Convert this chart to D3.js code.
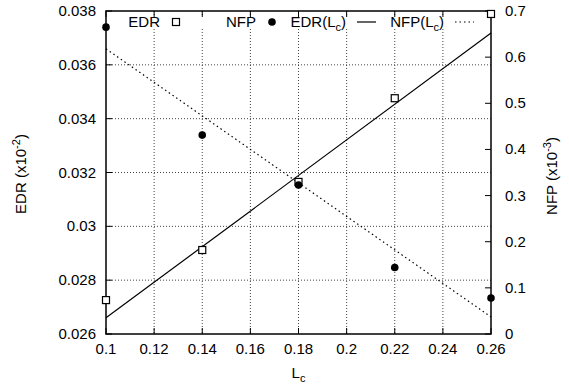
<!DOCTYPE html>
<html>
<head>
<meta charset="utf-8">
<script src="https://cdn.jsdelivr.net/npm/d3@7"></script>
<style>
  html, body { margin: 0; padding: 0; background: #fff; }
  svg { display: block; font-family: "Liberation Sans", Arial, sans-serif; }
</style>
</head>
<body>
<svg id="chart" width="569" height="388"></svg>
<script>
// Measured points
const lcValues = [0.10, 0.14, 0.18, 0.22, 0.26];
const edrValues = [0.02726, 0.02912, 0.03165, 0.03476, 0.03789];
const nfpValues = [0.665, 0.431, 0.323, 0.144, 0.078];

// Model lines EDR(Lc) and NFP(Lc), given at the ends of the Lc range
const modelLc = [0.10, 0.26];
const edrModel = [0.0266, 0.03718];
const nfpModel = [0.618, 0.037];

// Tick labels
const xTicks = [0.1, 0.12, 0.14, 0.16, 0.18, 0.2, 0.22, 0.24, 0.26];
const yLeftTicks = [0.026, 0.028, 0.03, 0.032, 0.034, 0.036, 0.038];
const yRightTicks = [0, 0.1, 0.2, 0.3, 0.4, 0.5, 0.6, 0.7];

const svg = d3.select("#chart");
const L = 106, R = 491, T = 11, B = 334;

const x = d3.scaleLinear().domain([0.1, 0.26]).range([L, R]);
const yL = d3.scaleLinear().domain([0.026, 0.038]).range([B, T]);
const yR = d3.scaleLinear().domain([0, 0.7]).range([B, T]);

const fs = 15;
const tickLen = 6;

// grid
const grid = svg.append("g").attr("stroke", "#444").attr("stroke-width", 1)
  .attr("stroke-dasharray", "1,2");
xTicks.slice(1, -1).forEach(v => {
  grid.append("line").attr("x1", x(v)).attr("x2", x(v)).attr("y1", T).attr("y2", B);
});
yLeftTicks.slice(1, -1).forEach(v => {
  grid.append("line").attr("x1", L).attr("x2", R).attr("y1", yL(v)).attr("y2", yL(v));
});

// key background (opaque)
svg.append("rect").attr("x", 113).attr("y", 15).attr("width", 369).attr("height", 14)
  .attr("fill", "#fff");

// ticks
const ticks = svg.append("g").attr("stroke", "#000").attr("stroke-width", 1);
xTicks.forEach(v => {
  ticks.append("line").attr("x1", x(v)).attr("x2", x(v)).attr("y1", B).attr("y2", B - tickLen);
  ticks.append("line").attr("x1", x(v)).attr("x2", x(v)).attr("y1", T).attr("y2", T + tickLen);
});
yLeftTicks.forEach(v => {
  ticks.append("line").attr("x1", L).attr("x2", L + tickLen).attr("y1", yL(v)).attr("y2", yL(v));
});
yRightTicks.forEach(v => {
  ticks.append("line").attr("x1", R).attr("x2", R - tickLen).attr("y1", yR(v)).attr("y2", yR(v));
});

// tick labels
const lab = svg.append("g").attr("font-size", fs).attr("fill", "#000");
xTicks.forEach(v => {
  lab.append("text").attr("x", x(v)).attr("y", B + 20).attr("text-anchor", "middle")
    .text(d3.format("~g")(v));
});
yLeftTicks.forEach(v => {
  lab.append("text").attr("x", L - 10).attr("y", yL(v) + 5).attr("text-anchor", "end")
    .text(d3.format("~g")(v));
});
yRightTicks.forEach(v => {
  lab.append("text").attr("x", R + 14).attr("y", yR(v) + 5).attr("text-anchor", "start")
    .text(d3.format("~g")(v));
});

// axis titles
const xt = svg.append("text").attr("x", x(0.18)).attr("y", 378).attr("font-size", fs)
  .attr("text-anchor", "middle");
xt.append("tspan").text("L");
xt.append("tspan").attr("dy", 4).attr("font-size", 11).text("c");

const ytl = svg.append("text").attr("transform", "translate(26,174) rotate(-90)")
  .attr("font-size", fs).attr("text-anchor", "middle");
ytl.append("tspan").text("EDR (x10");
ytl.append("tspan").attr("dy", -6).attr("font-size", 11).text("-2");
ytl.append("tspan").attr("dy", 6).text(")");

const ytr = svg.append("text").attr("transform", "translate(557,176) rotate(-90)")
  .attr("font-size", fs).attr("text-anchor", "middle");
ytr.append("tspan").text("NFP (x10");
ytr.append("tspan").attr("dy", -6).attr("font-size", 11).text("-3");
ytr.append("tspan").attr("dy", 6).text(")");

// model lines
const edrLine = d3.line().x((d, i) => x(modelLc[i])).y(d => yL(d));
const nfpLine = d3.line().x((d, i) => x(modelLc[i])).y(d => yR(d));
svg.append("path").datum(edrModel).attr("d", edrLine).attr("fill", "none")
  .attr("stroke", "#000").attr("stroke-width", 1.2);
svg.append("path").datum(nfpModel).attr("d", nfpLine).attr("fill", "none")
  .attr("stroke", "#000").attr("stroke-width", 1.2).attr("stroke-dasharray", "1.5,3");

// frame
svg.append("rect").attr("x", L).attr("y", T).attr("width", R - L).attr("height", B - T)
  .attr("fill", "none").attr("stroke", "#000").attr("stroke-width", 1.5);

// markers
const sq = 7;
svg.append("g").selectAll("rect").data(lcValues).join("rect")
  .attr("x", (d, i) => x(d) - sq / 2).attr("y", (d, i) => yL(edrValues[i]) - sq / 2)
  .attr("width", sq).attr("height", sq).attr("fill", "#fff").attr("stroke", "#000")
  .attr("stroke-width", 1.2);
svg.append("g").selectAll("circle").data(lcValues).join("circle")
  .attr("cx", d => x(d)).attr("cy", (d, i) => yR(nfpValues[i])).attr("r", 3.8)
  .attr("fill", "#000");

// key
const ky = 22;
const key = svg.append("g").attr("font-size", fs);
key.append("text").attr("x", 160).attr("y", ky + 5).attr("text-anchor", "end").text("EDR");
key.append("rect").attr("x", 176 - sq / 2).attr("y", ky - sq / 2).attr("width", sq).attr("height", sq)
  .attr("fill", "#fff").attr("stroke", "#000").attr("stroke-width", 1.2);
key.append("text").attr("x", 256).attr("y", ky + 5).attr("text-anchor", "end").text("NFP");
key.append("circle").attr("cx", 272).attr("cy", ky).attr("r", 3.8).attr("fill", "#000");

const k3 = key.append("text").attr("x", 346).attr("y", ky + 5).attr("text-anchor", "end");
k3.append("tspan").text("EDR(L");
k3.append("tspan").attr("dy", 4).attr("font-size", 11).text("c");
k3.append("tspan").attr("dy", -4).text(")");
key.append("line").attr("x1", 357).attr("x2", 376).attr("y1", ky).attr("y2", ky)
  .attr("stroke", "#000").attr("stroke-width", 1.2);

const k4 = key.append("text").attr("x", 444).attr("y", ky + 5).attr("text-anchor", "end");
k4.append("tspan").text("NFP(L");
k4.append("tspan").attr("dy", 4).attr("font-size", 11).text("c");
k4.append("tspan").attr("dy", -4).text(")");
key.append("line").attr("x1", 455).attr("x2", 474).attr("y1", ky).attr("y2", ky)
  .attr("stroke", "#000").attr("stroke-width", 1.2).attr("stroke-dasharray", "1.5,3");
</script>
</body>
</html>
